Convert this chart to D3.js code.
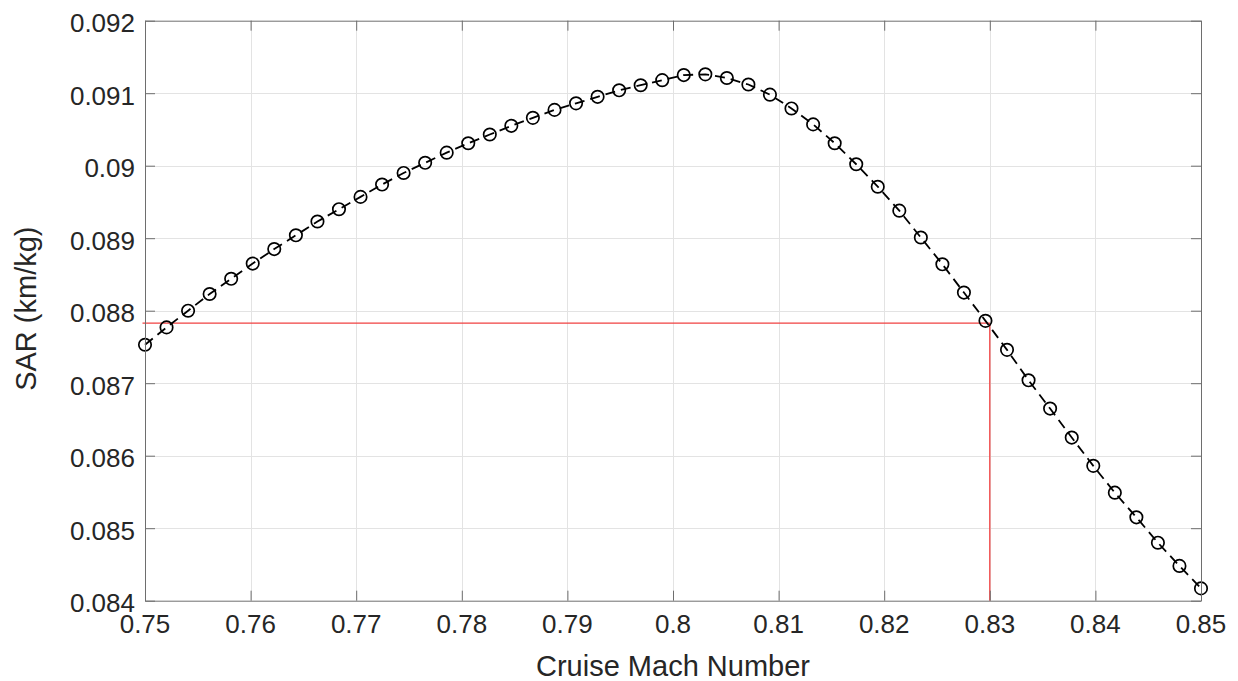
<!DOCTYPE html>
<html>
<head>
<meta charset="utf-8">
<script src="https://cdn.jsdelivr.net/npm/d3@7"></script>
<style>
  html, body { margin: 0; padding: 0; background: #fff; }
  svg { display: block; }
  text { font-family: "Liberation Sans", Arial, Helvetica, sans-serif; fill: #262626; }
</style>
</head>
<body>
<svg id="chart" width="1238" height="681"></svg>
<script>
// Cruise Mach number sweep (50 evenly spaced cases)
const mach = [
  0.75, 0.75204, 0.75408, 0.75612, 0.75816, 0.76020, 0.76224, 0.76429, 0.76633, 0.76837,
  0.77041, 0.77245, 0.77449, 0.77653, 0.77857, 0.78061, 0.78265, 0.78469, 0.78673, 0.78878,
  0.79082, 0.79286, 0.79490, 0.79694, 0.79898, 0.80102, 0.80306, 0.80510, 0.80714, 0.80918,
  0.81122, 0.81327, 0.81531, 0.81735, 0.81939, 0.82143, 0.82347, 0.82551, 0.82755, 0.82959,
  0.83163, 0.83367, 0.83571, 0.83776, 0.83980, 0.84184, 0.84388, 0.84592, 0.84796, 0.85
];

// Specific air range at each Mach number (km/kg)
const sar = [
  0.08753, 0.08777, 0.08800, 0.08823, 0.08844, 0.08865, 0.08885, 0.08904, 0.08923, 0.08940,
  0.08957, 0.08974, 0.08990, 0.09004, 0.09018, 0.09031, 0.09043, 0.09055, 0.09066, 0.09077,
  0.09086, 0.09095, 0.09104, 0.09111, 0.09118, 0.09125, 0.09126, 0.09121, 0.09112, 0.09098,
  0.09079, 0.09057, 0.09031, 0.09002, 0.08971, 0.08938, 0.08901, 0.08864, 0.08825, 0.08786,
  0.08746, 0.08704, 0.08665, 0.08625, 0.08586, 0.08549, 0.08515, 0.08480, 0.08448, 0.08417
];

// Design cruise point marked with guide lines
const designMach = 0.83;
const designSar = 0.08783;

const xTicks = [0.75, 0.76, 0.77, 0.78, 0.79, 0.80, 0.81, 0.82, 0.83, 0.84, 0.85];
const xTickLabels = ["0.75", "0.76", "0.77", "0.78", "0.79", "0.8", "0.81", "0.82", "0.83", "0.84", "0.85"];
const yTicks = [0.084, 0.085, 0.086, 0.087, 0.088, 0.089, 0.090, 0.091, 0.092];
const yTickLabels = ["0.084", "0.085", "0.086", "0.087", "0.088", "0.089", "0.09", "0.091", "0.092"];

const svg = d3.select("#chart");
const plot = { left: 145, right: 1201, top: 20.7, bottom: 600.7 };

const x = d3.scaleLinear().domain([0.75, 0.85]).range([plot.left, plot.right]);
const y = d3.scaleLinear().domain([0.084, 0.092]).range([plot.bottom, plot.top]);

// Grid
const grid = svg.append("g").attr("stroke", "#e3e3e3").attr("stroke-width", 1);
grid.selectAll("line.gx").data(xTicks.slice(1, -1)).join("line")
  .attr("x1", d => Math.round(x(d)) + 0.5).attr("x2", d => Math.round(x(d)) + 0.5)
  .attr("y1", plot.top).attr("y2", plot.bottom);
grid.selectAll("line.gy").data(yTicks.slice(1, -1)).join("line")
  .attr("y1", d => Math.round(y(d)) + 0.5).attr("y2", d => Math.round(y(d)) + 0.5)
  .attr("x1", plot.left).attr("x2", plot.right);

// Guide lines at the design point
const guide = svg.append("g").attr("stroke", "#f04040").attr("stroke-width", 1.3).attr("fill", "none");
guide.append("line")
  .attr("x1", x(0.75) - 2.5).attr("x2", x(designMach))
  .attr("y1", y(designSar)).attr("y2", y(designSar));
guide.append("line")
  .attr("x1", x(designMach)).attr("x2", x(designMach))
  .attr("y1", y(designSar)).attr("y2", y(0.084));

// SAR curve
const pts = mach.map((m, i) => [m, sar[i]]);
svg.append("path")
  .datum(pts)
  .attr("fill", "none")
  .attr("stroke", "#000")
  .attr("stroke-width", 1.8)
  .attr("stroke-dasharray", "10,6")
  .attr("d", d3.line().x(d => x(d[0])).y(d => y(d[1])));

svg.append("g").selectAll("circle").data(pts).join("circle")
  .attr("cx", d => x(d[0])).attr("cy", d => y(d[1]))
  .attr("r", 6.2)
  .attr("fill", "none")
  .attr("stroke", "#000")
  .attr("stroke-width", 1.7);

// Axes box with inward ticks on all sides
const tickLen = 10;
const axisColor = "#6e6e6e";
const bottomAxis = d3.axisBottom(x).tickValues(xTicks).tickSizeInner(-tickLen).tickSizeOuter(0).tickFormat("");
const topAxis = d3.axisTop(x).tickValues(xTicks).tickSizeInner(-tickLen).tickSizeOuter(0).tickFormat("");
const leftAxis = d3.axisLeft(y).tickValues(yTicks).tickSizeInner(-tickLen).tickSizeOuter(0).tickFormat("");
const rightAxis = d3.axisRight(y).tickValues(yTicks).tickSizeInner(-tickLen).tickSizeOuter(0).tickFormat("");

function styleAxis(g) {
  g.selectAll("path, line").attr("stroke", axisColor).attr("stroke-width", 1);
}
svg.append("g").attr("transform", `translate(0,${plot.bottom})`).call(bottomAxis).call(styleAxis);
svg.append("g").attr("transform", `translate(0,${plot.top})`).call(topAxis).call(styleAxis);
svg.append("g").attr("transform", `translate(${plot.left},0)`).call(leftAxis).call(styleAxis);
svg.append("g").attr("transform", `translate(${plot.right},0)`).call(rightAxis).call(styleAxis);

// Tick labels
svg.append("g").selectAll("text").data(xTicks).join("text")
  .attr("x", d => x(d)).attr("y", plot.bottom + 32.5)
  .attr("text-anchor", "middle")
  .attr("font-size", 26)
  .text((d, i) => xTickLabels[i]);

svg.append("g").selectAll("text").data(yTicks).join("text")
  .attr("x", plot.left - 10).attr("y", d => y(d) + 11.5)
  .attr("text-anchor", "end")
  .attr("font-size", 26)
  .text((d, i) => yTickLabels[i]);

// Axis titles
svg.append("text")
  .attr("x", (plot.left + plot.right) / 2).attr("y", 676)
  .attr("text-anchor", "middle")
  .attr("font-size", 29)
  .text("Cruise Mach Number");

svg.append("text")
  .attr("transform", `translate(35.5,${(plot.top + plot.bottom) / 2 - 2}) rotate(-90)`)
  .attr("text-anchor", "middle")
  .attr("font-size", 29)
  .text("SAR (km/kg)");
</script>
</body>
</html>
